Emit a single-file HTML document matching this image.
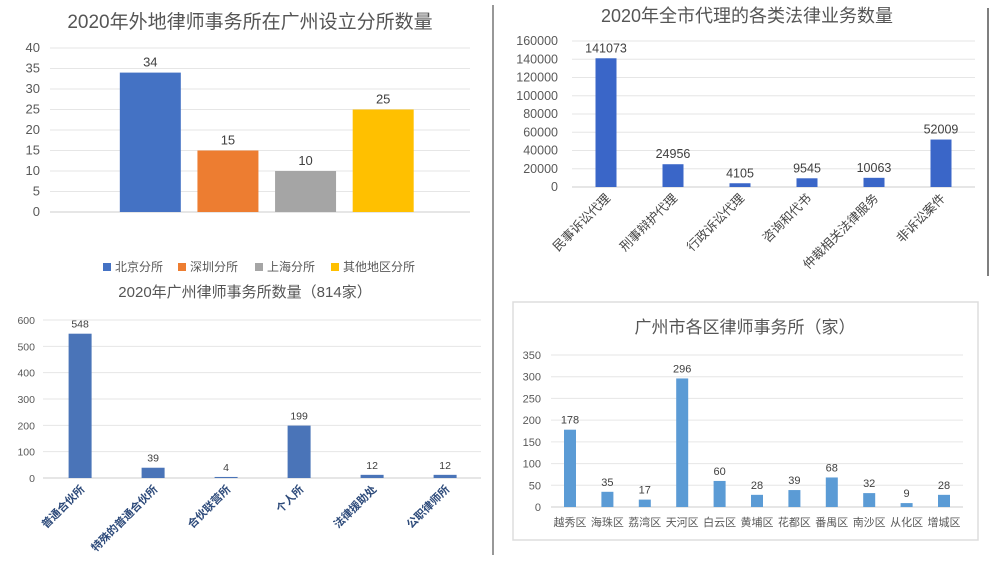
<!DOCTYPE html>
<html><head><meta charset="utf-8"><style>
html,body{margin:0;padding:0;background:#fff;}
svg{display:block;font-family:"Liberation Sans","Noto Sans CJK SC",sans-serif;}
</style></head><body>
<svg id="root" width="1000" height="562" viewBox="0 0 1000 562" xmlns="http://www.w3.org/2000/svg">
<rect width="1000" height="562" fill="#fff"/>
<line x1="493" y1="5" x2="493" y2="555" stroke="#777" stroke-width="1.5"/>
<line x1="988" y1="8" x2="988" y2="276" stroke="#555" stroke-width="1.5"/>
<rect x="513" y="302" width="465" height="238" fill="none" stroke="#ddd" stroke-width="1.5"/>
<g id="c1"></g>
<g id="c2"></g>
<g id="c3"></g>
<g id="c4"></g>
</svg>
<script>
// Chart 1: branches
const c1Categories = ["北京分所","深圳分所","上海分所","其他地区分所"];
const c1Values = [34,15,10,25];
const c1Ticks = [0,5,10,15,20,25,30,35,40];
// Chart 2: legal services
const c2Categories = ["民事诉讼代理","刑事辩护代理","行政诉讼代理","咨询和代书","仲裁相关法律服务","非诉讼案件"];
const c2Values = [141073,24956,4105,9545,10063,52009];
const c2Ticks = [0,20000,40000,60000,80000,100000,120000,140000,160000];
// Chart 3: firm types
const c3Categories = ["普通合伙所","特殊的普通合伙所","合伙联营所","个人所","法律援助处","公职律师所"];
const c3Values = [548,39,4,199,12,12];
const c3Ticks = [0,100,200,300,400,500,600];
// Chart 4: districts
const c4Categories = ["越秀区","海珠区","荔湾区","天河区","白云区","黄埔区","花都区","番禺区","南沙区","从化区","增城区"];
const c4Values = [178,35,17,296,60,28,39,68,32,9,28];
const c4Ticks = [0,50,100,150,200,250,300,350];

const NS="http://www.w3.org/2000/svg";
function mk(parent,tag,attrs,text){const e=document.createElementNS(NS,tag);for(const k in attrs)e.setAttribute(k,attrs[k]);if(text!==undefined)e.textContent=text;parent.appendChild(e);return e;}

function drawChart(g,o){
  const yS=v=>o.yB-(v/o.max)*(o.yB-o.yT);
  const step=(o.bx1-o.bx0)/o.cats.length;
  const xS=i=>o.bx0+step*(i+0.5);
  const t=mk(g,'text',{x:o.tx,y:o.ty,'text-anchor':'middle','font-size':o.tfs,fill:'#555'},o.title);
  
  
  o.ticks.forEach(v=>{
    const l=mk(g,'line',{x1:o.gx0,x2:o.gx1,y1:yS(v),y2:yS(v),stroke:v===0?'#ccc':'#e6e6e6','stroke-width':1});
    
    
    const tl=mk(g,'text',{x:o.lx,y:yS(v)+4,'text-anchor':'end','font-size':o.fs,fill:'#595959'},String(v));
    
    
  });
  o.vals.forEach((v,i)=>{
    const cx=xS(i);
    const col=Array.isArray(o.color)?o.color[i]:o.color;
    const r=mk(g,'rect',{x:cx-o.bw/2,y:yS(v),width:o.bw,height:o.yB-yS(v),fill:col});
    
    
    const vl=mk(g,'text',{x:cx,y:yS(v)-6,'text-anchor':'middle','font-size':o.fs,fill:'#404040'},String(v));
    
    
    if(o.xlab==='h'){
      const xl=mk(g,'text',{x:cx,y:o.yB+19,'text-anchor':'middle','font-size':o.fs,fill:'#595959'},o.cats[i]);
      
      
    } else if(o.xlab==='r'){
      const px=cx+5,py=o.yB+12;
      const xl=mk(g,'text',{x:px,y:py,'text-anchor':'end','font-size':o.xfs,fill:o.xcol,'font-weight':o.xw||'normal',transform:'rotate(-45 '+px+' '+py+')'},o.cats[i]);
      
      
    }
  });
  return xS;
}

drawChart(document.getElementById('c1'),{cats:c1Categories,vals:c1Values,ticks:c1Ticks,max:40,yT:48,yB:212,bx0:111.5,bx1:422,bw:61,gx0:50,gx1:470,lx:40,fs:13,title:"2020年外地律师事务所在广州设立分所数量",tx:250,ty:28,tfs:19,color:["#4472C4","#ED7D31","#A5A5A5","#FFC000"],xlab:'none'});
// legend for chart 1
(function(){
  const g=document.getElementById('c1');
  const cols=["#4472C4","#ED7D31","#A5A5A5","#FFC000"];
  const xs=[103,178,255,331];
  c1Categories.forEach((c,i)=>{
    const s=mk(g,'rect',{x:xs[i],y:263,width:8,height:8,fill:cols[i]});
    
    
    const t=mk(g,'text',{x:xs[i]+12,y:271,'font-size':12,fill:'#595959'},c);
    
    
  });
})();
drawChart(document.getElementById('c2'),{cats:c2Categories,vals:c2Values,ticks:c2Ticks,max:160000,yT:41,yB:187,bx0:572.5,bx1:974.5,bw:21,gx0:572,gx1:975,lx:558,fs:12.5,xfs:12.5,xcol:'#444',title:"2020年全市代理的各类法律业务数量",tx:747,ty:22,tfs:18,color:"#3a66c8",xlab:'r'});
drawChart(document.getElementById('c3'),{cats:c3Categories,vals:c3Values,ticks:c3Ticks,max:600,yT:320,yB:478,bx0:43.6,bx1:481.6,bw:23,gx0:43,gx1:481,lx:35,fs:10.5,xfs:11,xcol:'#2d4a7a',xw:'bold',title:"2020年广州律师事务所数量（814家）",tx:245,ty:297,tfs:15,color:"#4a74b8",xlab:'r'});
drawChart(document.getElementById('c4'),{cats:c4Categories,vals:c4Values,ticks:c4Ticks,max:350,yT:355,yB:507,bx0:551.3,bx1:962.7,bw:12,gx0:551,gx1:963,lx:541,fs:11,title:"广州市各区律师事务所（家）",tx:745,ty:333,tfs:17,color:"#5B9BD5",xlab:'h'});
</script>
</body></html>
